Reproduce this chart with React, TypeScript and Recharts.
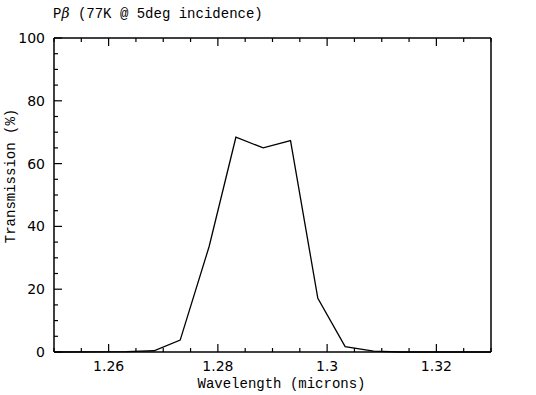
import { LineChart, Line, XAxis, YAxis, Label } from 'recharts';

const WAVELENGTH = [1.25, 1.2633, 1.2683, 1.2731, 1.2784, 1.2833, 1.2883, 1.2933, 1.2983, 1.3033, 1.3085, 1.3133, 1.33];
const TRANSMISSION = [0, 0.1, 0.4, 3.8, 33.6, 68.4, 65.0, 67.3, 17.1, 1.7, 0.3, 0, 0];

const X_TICKS = [
  1.25, 1.255, 1.26, 1.265, 1.27, 1.275, 1.28, 1.285, 1.29,
  1.295, 1.3, 1.305, 1.31, 1.315, 1.32, 1.325, 1.33,
];
const X_MAJOR = [1.26, 1.28, 1.3, 1.32];
const X_MAJOR_LABELS = ['1.26', '1.28', '1.3', '1.32'];

const Y_TICKS = [0, 5, 10, 15, 20, 25, 30, 35, 40, 45, 50, 55, 60, 65, 70, 75, 80, 85, 90, 95, 100];
const Y_MAJOR = [0, 20, 40, 60, 80, 100];

const data = WAVELENGTH.map((w, i) => ({ w, t: TRANSMISSION[i] }));

const TICK_FONT = { fontFamily: 'DejaVu Sans', fontSize: 14, fill: '#000' };
const LABEL_FONT = { fontFamily: 'Liberation Mono', fontSize: 14, fill: '#000' };
const MAJOR_LEN = 8;
const MINOR_LEN = 4;

const majorIndex = (list: number[], v: number) => list.findIndex((m) => Math.abs(m - v) < 1e-9);

function XTick({ x, y, payload, side }: any) {
  const idx = majorIndex(X_MAJOR, payload.value);
  const len = idx >= 0 ? MAJOR_LEN : MINOR_LEN;
  const dir = side === 'bottom' ? -1 : 1;
  return (
    <g>
      <line x1={x} y1={y} x2={x} y2={y + dir * len} stroke="#000" strokeWidth={1.2} />
      {side === 'bottom' && idx >= 0 && (
        <text x={x} y={y + 19} textAnchor="middle" {...TICK_FONT}>
          {X_MAJOR_LABELS[idx]}
        </text>
      )}
    </g>
  );
}

function YTick({ x, y, payload, side }: any) {
  const major = majorIndex(Y_MAJOR, payload.value) >= 0;
  const len = major ? MAJOR_LEN : MINOR_LEN;
  const dir = side === 'left' ? 1 : -1;
  return (
    <g>
      <line x1={x} y1={y} x2={x + dir * len} y2={y} stroke="#000" strokeWidth={1.2} />
      {major && (
        <text
          x={side === 'left' ? x - 9 : x + 10}
          y={y}
          dy="0.36em"
          textAnchor={side === 'left' ? 'end' : 'start'}
          {...TICK_FONT}
        >
          {payload.value}
        </text>
      )}
    </g>
  );
}

export default function App() {
  const axisLine = { stroke: '#000', strokeWidth: 1.5 };
  return (
    <div style={{ width: 536, height: 395, background: '#fff' }}>
      <style>{'body{margin:0}'}</style>
      <LineChart width={536} height={395} data={data} margin={{ top: 0, right: 0, bottom: 0, left: 0 }}>
        <XAxis
          xAxisId="bottom"
          dataKey="w"
          type="number"
          domain={[1.25, 1.33]}
          ticks={X_TICKS}
          interval={0}
          height={43}
          tickSize={0}
          tickMargin={0}
          axisLine={axisLine}
          tick={(p: any) => <XTick {...p} side="bottom" />}
        >
          <Label
            content={({ viewBox }: any) => (
              <text x={viewBox.x + viewBox.width / 2 + 9} y={viewBox.y + 36} textAnchor="middle" {...LABEL_FONT}>
                Wavelength (microns)
              </text>
            )}
          />
        </XAxis>
        <XAxis
          xAxisId="top"
          orientation="top"
          dataKey="w"
          type="number"
          domain={[1.25, 1.33]}
          ticks={X_TICKS}
          interval={0}
          height={38}
          tickSize={0}
          tickMargin={0}
          axisLine={axisLine}
          tick={(p: any) => <XTick {...p} side="top" />}
        >
          <Label
            content={({ viewBox }: any) => (
              <text x={viewBox.x - 1} y={18} {...LABEL_FONT}>
                P<tspan fontStyle="italic" fontFamily="DejaVu Serif">β</tspan> (77K @ 5deg incidence)
              </text>
            )}
          />
        </XAxis>
        <YAxis
          yAxisId="left"
          type="number"
          domain={[0, 100]}
          ticks={Y_TICKS}
          interval={0}
          width={54}
          tickSize={0}
          tickMargin={0}
          axisLine={axisLine}
          tick={(p: any) => <YTick {...p} side="left" />}
        >
          <Label
            content={({ viewBox }: any) => {
              const cx = 15;
              const cy = viewBox.y + viewBox.height / 2 - 19;
              return (
                <text x={cx} y={cy} transform={`rotate(-90 ${cx} ${cy})`} textAnchor="middle" {...LABEL_FONT}>
                  Transmission (%)
                </text>
              );
            }}
          />
        </YAxis>
        <YAxis
          yAxisId="right"
          orientation="right"
          type="number"
          domain={[0, 100]}
          ticks={Y_TICKS}
          interval={0}
          width={45}
          tickSize={0}
          tickMargin={0}
          axisLine={axisLine}
          tick={(p: any) => <YTick {...p} side="right" />}
        />
        <Line
          xAxisId="bottom"
          yAxisId="left"
          dataKey="t"
          type="linear"
          stroke="#000"
          strokeWidth={1.3}
          dot={false}
          isAnimationActive={false}
        />
      </LineChart>
    </div>
  );
}
